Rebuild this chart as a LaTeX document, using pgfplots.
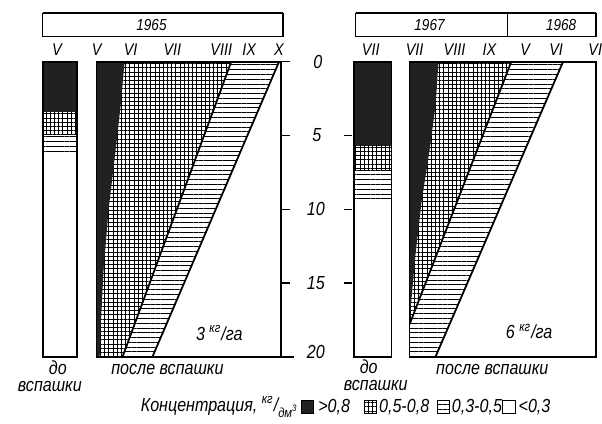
\documentclass[border=0pt]{standalone}
\usepackage{pgfplots}
\pgfplotsset{compat=1.18}
\usepackage{fontspec}
\setmainfont{Liberation Sans}
\newfontfamily\nrw[FakeStretch=0.85]{Liberation Sans}
\usetikzlibrary{patterns.meta}
\definecolor{dark}{gray}{0.13}
\tikzset{
  gridpat/.style={pattern={Hatch[angle=0,distance=2.1pt,line width=0.35pt]},pattern color=black,draw=none},
  linepat/.style={pattern={Lines[angle=0,distance=2.4pt,line width=0.35pt]},pattern color=black,draw=none},
  darkfill/.style={fill=dark,draw=none},
  lab/.style={font=\nrw\itshape\fontsize{9.5}{10}\selectfont, inner sep=0pt},
  mon/.style={font=\nrw\itshape\fontsize{8.5}{9}\selectfont, inner sep=0pt},
  yr/.style={font=\nrw\itshape\fontsize{8}{8}\selectfont, inner sep=0pt},
}
\begin{document}
\begin{tikzpicture}
\begin{axis}[
  width=301pt, height=212.5pt, scale only axis,
  xmin=0, xmax=602, ymin=-4.19, ymax=24.53, y dir=reverse,
  hide axis, clip=false,
]
\path (rel axis cs:0,0) (rel axis cs:1,1);
% ---------- 1965: before ploughing (narrow column)
\addplot[darkfill] coordinates {(43,0)(77,0)(77,3.4)(43,3.4)} -- cycle;
\addplot[gridpat] coordinates {(43,3.4)(77,3.4)(77,4.9)(43,4.9)} -- cycle;
\addplot[linepat] coordinates {(43,4.9)(77,4.9)(77,6.2)(43,6.2)} -- cycle;
% ---------- 1965: after ploughing, 3 kg/ha
\addplot[gridpat] coordinates {(97,0)(232,0)(123,20)(97,20)} -- cycle;
\addplot[linepat] coordinates {(232,0)(280,0)(153,20)(123,20)} -- cycle;
\addplot[darkfill] coordinates {(97,0)(125,0)(121,3)(116,6)(109,10)(104,14)(101,18)(100,20)(97,20)} -- cycle;
\addplot[black, line width=0.9pt] coordinates {(232,0)(123,20)};
\addplot[black, line width=0.9pt] coordinates {(280,0)(153,20)};
% ---------- 1967: before ploughing
\addplot[darkfill] coordinates {(355,0)(393,0)(393,5.7)(355,5.7)} -- cycle;
\addplot[gridpat] coordinates {(355,5.7)(393,5.7)(393,7.3)(355,7.3)} -- cycle;
\addplot[linepat] coordinates {(355,7.3)(393,7.3)(393,9.5)(355,9.5)} -- cycle;
% ---------- 1967-68: after ploughing, 6 kg/ha
\addplot[gridpat] coordinates {(411,0)(513,0)(411,17.8)} -- cycle;
\addplot[linepat] coordinates {(513,0)(565,0)(437,20)(411,20)(411,17.8)} -- cycle;
\addplot[darkfill] coordinates {(411,0)(440,0)(437,3)(431,6)(423,9.5)(417,13)(413,16)(411,17.5)} -- cycle;
\addplot[black, line width=0.9pt] coordinates {(513,0)(411,17.8)};
\addplot[black, line width=0.9pt] coordinates {(565,0)(437,20)};
% ---------- frames
\addplot[black, line width=0.8pt] coordinates {(43,0)(77,0)(77,20)(43,20)} -- cycle;
\addplot[black, line width=0.8pt] coordinates {(97,0)(282,0)(282,20)(97,20)} -- cycle;
\addplot[black, line width=0.8pt] coordinates {(282,20)(295,20)};
\addplot[black, line width=0.8pt] coordinates {(355,0)(393,0)(393,20)(355,20)} -- cycle;
\addplot[black, line width=0.8pt] coordinates {(411,0)(598,0)(598,20)(411,20)} -- cycle;
% depth ticks
\draw[line width=0.6pt] (axis cs:282,0) -- (axis cs:291,0);
\draw[line width=0.6pt] (axis cs:282,5) -- (axis cs:291,5);
\draw[line width=0.6pt] (axis cs:282,10) -- (axis cs:291,10);
\draw[line width=0.6pt] (axis cs:282,15) -- (axis cs:291,15);
\draw[line width=0.6pt] (axis cs:345,5) -- (axis cs:353,5);
\draw[line width=0.6pt] (axis cs:345,10) -- (axis cs:353,10);
\draw[line width=0.6pt] (axis cs:345,15) -- (axis cs:353,15);
\node[lab] at (axis cs:319,0) {0};
\node[lab] at (axis cs:318,5) {5};
\node[lab] at (axis cs:317,10) {10};
\node[lab] at (axis cs:317,15) {15};
\node[lab] at (axis cs:317,19.7) {20};
% year boxes
\draw[line width=0.6pt] (axis cs:43,-3.3) rectangle (axis cs:284,-1.7);
\draw[line width=1.3pt] (axis cs:43,-3.3) -- (axis cs:284,-3.3);
\node[yr] at (axis cs:152,-2.5) {1965};
\draw[line width=0.6pt] (axis cs:357,-3.3) rectangle (axis cs:598,-1.7);
\draw[line width=1.3pt] (axis cs:357,-3.3) -- (axis cs:598,-3.3);
\draw[line width=0.6pt] (axis cs:509,-3.3) -- (axis cs:509,-1.7);
\node[yr] at (axis cs:431,-2.5) {1967};
\node[yr] at (axis cs:563,-2.5) {1968};
% months
\node[mon] at (axis cs:57,-0.8) {V};
\node[mon] at (axis cs:97,-0.8) {V};
\node[mon] at (axis cs:131,-0.8) {VI};
\node[mon] at (axis cs:173,-0.8) {VII};
\node[mon] at (axis cs:222,-0.8) {VIII};
\node[mon] at (axis cs:250,-0.8) {IX};
\node[mon] at (axis cs:280,-0.8) {X};
\node[mon] at (axis cs:372,-0.8) {VII};
\node[mon] at (axis cs:416,-0.8) {VII};
\node[mon] at (axis cs:456,-0.8) {VIII};
\node[mon] at (axis cs:491,-0.8) {IX};
\node[mon] at (axis cs:527,-0.8) {V};
\node[mon] at (axis cs:558,-0.8) {VI};
\node[mon,anchor=west] at (axis cs:590,-0.8) {VI};
% panel labels
\node[lab] at (axis cs:220,18.4) {3 \textsuperscript{кг}/га};
\node[lab] at (axis cs:531,18.3) {6 \textsuperscript{кг}/га};
\node[lab] at (axis cs:58,20.75) {до};
\node[lab] at (axis cs:50,22.05) {вспашки};
\node[lab] at (axis cs:168,20.85) {после вспашки};
\node[lab] at (axis cs:370,20.7) {до};
\node[lab] at (axis cs:377,21.95) {вспашки};
\node[lab] at (axis cs:494,20.85) {после вспашки};
% legend
\node[lab,anchor=east] at (axis cs:300,23.4) {Концентрация, \textsuperscript{кг}/\textsubscript{дм\textsuperscript{3}}};
\addplot[fill=dark, draw=black, line width=0.5pt] coordinates {(303,22.97)(315,22.97)(315,23.85)(303,23.85)} -- cycle;
\node[lab,anchor=west] at (axis cs:319,23.4) {>0,8};
\addplot[gridpat, draw=black, line width=0.5pt] coordinates {(366,22.97)(378,22.97)(378,23.85)(366,23.85)} -- cycle;
\node[lab,anchor=west] at (axis cs:380,23.4) {0,5-0,8};
\addplot[linepat, draw=black, line width=0.5pt] coordinates {(439,22.97)(451,22.97)(451,23.85)(439,23.85)} -- cycle;
\node[lab,anchor=west] at (axis cs:453,23.4) {0,3-0,5};
\addplot[fill=white, draw=black, line width=0.5pt] coordinates {(504,22.97)(517,22.97)(517,23.85)(504,23.85)} -- cycle;
\node[lab,anchor=west] at (axis cs:520,23.4) {<0,3};
\end{axis}
\end{tikzpicture}
\end{document}
